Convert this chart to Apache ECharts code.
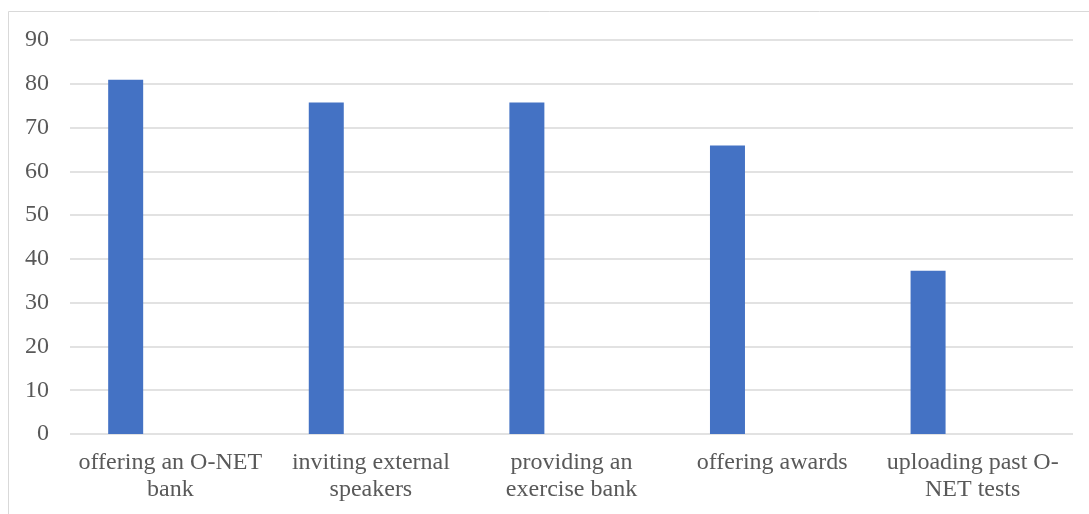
<!DOCTYPE html>
<html style="height: 100%">
<head>
    <meta charset="utf-8">
    <title>ECharts</title>
    <script src="https://cdn.jsdelivr.net/npm/echarts@6/dist/echarts.min.js"></script>
</head>
<body style="height: 100%; margin: 0">
<div id="main" style="width: 1089px; height: 514px"></div>

<script type="text/javascript">
    var categories = ['offering an O-NET\nbank', 'inviting external\nspeakers', 'providing an\nexercise bank', 'offering awards', 'uploading past O-\nNET tests'];
    var values = [80.9, 75.7, 75.7, 65.9, 37.3];
    // second (empty) series, it keeps the blank space right of each bar
    var emptyValues = [null, null, null, null, null];
    var yTicks = [0, 10, 20, 30, 40, 50, 60, 70, 80, 90];

    var myChart = echarts.init(document.getElementById('main'));

    var option = {
        backgroundColor: '#fff',
        animation: false,
        textStyle: {fontFamily: '"Liberation Serif", "Times New Roman", serif'},
        graphic: [{
            type: 'rect',
            shape: {x: 8.5, y: 11.5, width: 1100, height: 520},
            style: {fill: 'none', stroke: '#d9d9d9', lineWidth: 1}
        }],
        grid: {left: 70, right: 16, top: 40, bottom: 80},
        xAxis: {
            type: 'category',
            data: categories,
            axisLine: {show: false},
            axisTick: {show: false},
            axisLabel: {
                color: '#595959',
                fontSize: 24,
                lineHeight: 27,
                margin: 15,
                interval: 0
            }
        },
        yAxis: {
            type: 'value',
            min: yTicks[0],
            max: yTicks[yTicks.length - 1],
            interval: 10,
            axisLine: {show: false},
            axisTick: {show: false},
            axisLabel: {color: '#595959', fontSize: 24, margin: 21},
            splitLine: {lineStyle: {color: '#d9d9d9', width: 1.5}}
        },
        series: [
            {
                name: 'Series 1',
                type: 'bar',
                data: values,
                barWidth: 35,
                barGap: '155%',
                itemStyle: {color: '#4472c4'}
            },
            {
                name: 'Series 2',
                type: 'bar',
                data: emptyValues,
                barWidth: 35,
                itemStyle: {color: '#ed7d31'}
            }
        ]
    };
    myChart.setOption(option, true);
</script>
</body>
</html>
